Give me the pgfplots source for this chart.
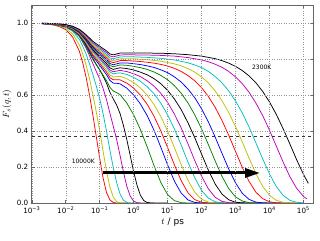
\documentclass[border=0pt]{standalone}
\usepackage{fontspec}
\setmainfont{DejaVu Sans}
\usepackage{pgfplots}
\pgfplotsset{compat=1.18}
\usetikzlibrary{arrows.meta}
\definecolor{mb}{rgb}{0,0,1}
\definecolor{mg}{rgb}{0,0.5,0}
\definecolor{mr}{rgb}{1,0,0}
\definecolor{mc}{rgb}{0,0.75,0.75}
\definecolor{mm}{rgb}{0.75,0,0.75}
\definecolor{my}{rgb}{0.75,0.75,0}
\begin{document}
\begin{tikzpicture}
\useasboundingbox (-31.8pt,-37pt) rectangle (288.2pt,203pt);
\begin{axis}[
  at={(0,0)}, anchor=south west,
  scale only axis, width=281.8pt, height=198pt,
  xmode=log, xmin=1e-3, xmax=2e5, ymin=0, ymax=1.1,
  xminorticks=false,
  xtick={1e-3,1e-2,1e-1,1,10,100,1000,10000,100000},
  xticklabels={10\textsuperscript{−3},10\textsuperscript{−2},10\textsuperscript{−1},10\textsuperscript{0},10\textsuperscript{1},10\textsuperscript{2},10\textsuperscript{3},10\textsuperscript{4},10\textsuperscript{5}},
  ytick={0,0.2,0.4,0.6,0.8,1.0},
  yticklabels={0.0,0.2,0.4,0.6,0.8,1.0},
  grid=major, major grid style={dotted, black!42, line width=0.4pt},
  axis line style={black!60, line width=0.6pt},
  tick style={black!60, line width=0.5pt}, major tick length=3pt,
  tick label style={font=\fontsize{7.2}{8}\selectfont},
  label style={font=\fontsize{9}{10}\selectfont},
  xlabel={$t$ / ps}, ylabel={$F_s(q,t)$},
  xlabel style={at={(axis description cs:0.5,-0.098)}, anchor=center},
  ylabel style={at={(axis description cs:-0.088,0.5)}, anchor=center},
  axis on top,
  every axis plot/.append style={line width=0.75pt, line join=round},
]
\addplot[mr] coordinates {(0.001995,0.996) (0.003981,0.990) (0.00631,0.981) (0.01,0.963) (0.01585,0.923) (0.02512,0.844) (0.03162,0.779) (0.03981,0.698) (0.05012,0.600) (0.0631,0.487) (0.07943,0.368) (0.1,0.248) (0.1259,0.139) (0.1585,0.059) (0.1995,0.017) (0.2512,0.003) (0.3162,0) (0.631,0)};
\addplot[my] coordinates {(0.001995,0.997) (0.003981,0.992) (0.00631,0.985) (0.01,0.970) (0.01585,0.940) (0.02512,0.879) (0.03162,0.828) (0.03981,0.766) (0.05012,0.690) (0.0631,0.602) (0.07943,0.506) (0.1,0.402) (0.1259,0.287) (0.1585,0.178) (0.1995,0.088) (0.2512,0.033) (0.3162,0.008) (0.3981,0.001) (0.5012,0) (1,0)};
\addplot[mc] coordinates {(0.001995,0.997) (0.003981,0.993) (0.00631,0.988) (0.01,0.977) (0.01585,0.955) (0.02512,0.910) (0.03162,0.871) (0.03981,0.827) (0.05012,0.773) (0.0631,0.713) (0.07943,0.650) (0.1,0.580) (0.1259,0.496) (0.1585,0.400) (0.1995,0.294) (0.2512,0.197) (0.3162,0.113) (0.3981,0.050) (0.5012,0.015) (0.631,0.003) (0.7943,0) (1.585,0)};
\addplot[mm] coordinates {(0.001995,0.997) (0.003981,0.994) (0.00631,0.990) (0.01,0.981) (0.01585,0.962) (0.02512,0.927) (0.03162,0.895) (0.03981,0.860) (0.05012,0.818) (0.0631,0.774) (0.07943,0.731) (0.1,0.689) (0.1259,0.636) (0.1585,0.575) (0.1995,0.499) (0.2512,0.427) (0.3162,0.352) (0.3981,0.264) (0.5012,0.172) (0.631,0.092) (0.7943,0.038) (1,0.010) (1.259,0.002) (1.585,0) (3.981,0)};
\addplot[black] coordinates {(0.001995,0.998) (0.003981,0.995) (0.00631,0.991) (0.01,0.983) (0.01585,0.966) (0.02512,0.934) (0.03981,0.875) (0.05012,0.839) (0.0631,0.802) (0.07943,0.769) (0.1,0.740) (0.1259,0.705) (0.1585,0.666) (0.1995,0.616) (0.2512,0.578) (0.3162,0.544) (0.3981,0.497) (0.5012,0.430) (0.631,0.351) (0.7943,0.263) (1,0.174) (1.259,0.098) (1.585,0.043) (1.995,0.013) (2.512,0.003) (3.162,0) (10,0)};
\addplot[mg] coordinates {(0.001995,0.996) (0.003981,0.992) (0.00631,0.986) (0.01,0.977) (0.01585,0.959) (0.02512,0.926) (0.03981,0.867) (0.0631,0.797) (0.1,0.740) (0.1585,0.680) (0.1995,0.643) (0.2512,0.622) (0.3162,0.613) (0.3981,0.602) (0.631,0.555) (1,0.490) (1.585,0.408) (2.512,0.311) (3.981,0.208) (6.31,0.114) (10,0.047) (15.85,0.013) (25.12,0.002) (39.81,0) (158.5,0)};
\addplot[mb] coordinates {(0.001995,0.996) (0.003981,0.993) (0.00631,0.989) (0.01,0.980) (0.01585,0.964) (0.02512,0.934) (0.03981,0.880) (0.0631,0.815) (0.1,0.765) (0.1585,0.713) (0.1995,0.681) (0.2512,0.666) (0.3162,0.665) (0.3981,0.662) (0.631,0.638) (1,0.600) (1.585,0.550) (2.512,0.485) (3.981,0.404) (6.31,0.310) (10,0.212) (15.85,0.122) (25.12,0.055) (39.81,0.017) (63.1,0.003) (100,0) (398.1,0)};
\addplot[mr] coordinates {(0.001995,0.997) (0.003981,0.994) (0.00631,0.989) (0.01,0.982) (0.01585,0.966) (0.02512,0.937) (0.03981,0.886) (0.0631,0.823) (0.1,0.776) (0.1585,0.727) (0.1995,0.697) (0.2512,0.684) (0.3162,0.685) (0.3981,0.684) (0.631,0.666) (1,0.638) (1.585,0.599) (2.512,0.548) (3.981,0.482) (6.31,0.401) (10,0.308) (15.85,0.212) (25.12,0.124) (39.81,0.057) (63.1,0.019) (100,0.004) (158.5,0) (631,0)};
\addplot[my] coordinates {(0.001995,0.997) (0.003981,0.994) (0.00631,0.990) (0.01,0.983) (0.01585,0.968) (0.02512,0.940) (0.03981,0.891) (0.0631,0.831) (0.1,0.786) (0.1585,0.740) (0.1995,0.712) (0.2512,0.700) (0.3162,0.702) (0.3981,0.704) (0.631,0.690) (1,0.669) (1.585,0.639) (2.512,0.599) (3.981,0.547) (6.31,0.481) (10,0.400) (15.85,0.308) (25.12,0.213) (39.81,0.126) (63.1,0.060) (100,0.021) (158.5,0.005) (251.2,0) (1000,0)};
\addplot[mc] coordinates {(0.001995,0.997) (0.003981,0.995) (0.00631,0.991) (0.01,0.984) (0.01585,0.970) (0.02512,0.944) (0.03981,0.897) (0.0631,0.840) (0.1,0.797) (0.1585,0.754) (0.1995,0.728) (0.2512,0.717) (0.3162,0.721) (0.3981,0.723) (0.631,0.714) (1,0.698) (1.585,0.676) (2.512,0.646) (3.981,0.607) (6.31,0.555) (10,0.490) (15.85,0.412) (25.12,0.322) (39.81,0.227) (63.1,0.140) (100,0.070) (158.5,0.027) (251.2,0.007) (398.1,0.001) (631,0) (1585,0)};
\addplot[mm] coordinates {(0.001995,0.997) (0.003981,0.995) (0.00631,0.991) (0.01,0.985) (0.01585,0.972) (0.02512,0.946) (0.03981,0.901) (0.0631,0.846) (0.1,0.805) (0.1585,0.764) (0.1995,0.739) (0.2512,0.729) (0.3162,0.733) (0.3981,0.737) (0.631,0.730) (1,0.718) (1.585,0.702) (2.512,0.679) (3.981,0.649) (6.31,0.610) (10,0.559) (15.85,0.494) (25.12,0.417) (39.81,0.329) (63.1,0.236) (100,0.149) (158.5,0.079) (251.2,0.032) (398.1,0.009) (631,0.002) (1000,0) (2512,0)};
\addplot[black] coordinates {(0.001995,0.998) (0.003981,0.995) (0.00631,0.992) (0.01,0.986) (0.01585,0.973) (0.02512,0.949) (0.03981,0.905) (0.0631,0.852) (0.1,0.814) (0.1585,0.775) (0.1995,0.751) (0.2512,0.742) (0.3162,0.747) (0.3981,0.751) (0.631,0.747) (1,0.739) (1.585,0.727) (2.512,0.712) (3.981,0.691) (6.31,0.663) (10,0.626) (15.85,0.578) (25.12,0.519) (39.81,0.446) (63.1,0.363) (100,0.272) (158.5,0.183) (251.2,0.106) (398.1,0.050) (631,0.018) (1000,0.004) (1585,0.001) (2512,0) (6310,0)};
\addplot[mg] coordinates {(0.001995,0.998) (0.003981,0.996) (0.00631,0.993) (0.01,0.987) (0.01585,0.975) (0.02512,0.952) (0.03981,0.910) (0.0631,0.860) (0.1,0.824) (0.1585,0.787) (0.1995,0.764) (0.2512,0.757) (0.3162,0.762) (0.3981,0.767) (0.631,0.765) (1,0.759) (1.585,0.752) (2.512,0.742) (3.981,0.728) (6.31,0.709) (10,0.685) (15.85,0.652) (25.12,0.610) (39.81,0.556) (63.1,0.490) (100,0.412) (158.5,0.325) (251.2,0.234) (398.1,0.149) (631,0.080) (1000,0.034) (1585,0.011) (2512,0.002) (6310,0) (15850,0)};
\addplot[mb] coordinates {(0.001995,0.998) (0.003981,0.996) (0.00631,0.993) (0.01,0.988) (0.01585,0.976) (0.02512,0.954) (0.03981,0.914) (0.0631,0.866) (0.1,0.831) (0.1585,0.797) (0.1995,0.775) (0.2512,0.768) (0.3162,0.773) (0.3981,0.778) (0.631,0.778) (1,0.774) (1.585,0.769) (2.512,0.762) (3.981,0.753) (6.31,0.740) (10,0.724) (15.85,0.701) (25.12,0.672) (39.81,0.633) (63.1,0.585) (100,0.524) (158.5,0.451) (251.2,0.367) (398.1,0.277) (631,0.189) (1000,0.112) (1585,0.054) (2512,0.020) (3981,0.005) (6310,0.001) (15850,0) (39810,0)};
\addplot[mr] coordinates {(0.001995,0.998) (0.003981,0.996) (0.00631,0.994) (0.01,0.988) (0.01585,0.978) (0.02512,0.957) (0.03981,0.918) (0.0631,0.873) (0.1,0.840) (0.1585,0.807) (0.1995,0.786) (0.2512,0.780) (0.3162,0.785) (0.3981,0.791) (0.631,0.791) (1,0.789) (1.585,0.786) (2.512,0.782) (3.981,0.777) (6.31,0.770) (10,0.761) (15.85,0.748) (25.12,0.731) (39.81,0.708) (63.1,0.679) (100,0.641) (158.5,0.592) (251.2,0.532) (398.1,0.459) (631,0.377) (1000,0.287) (1585,0.198) (2512,0.120) (3981,0.060) (6310,0.024) (10000,0.007) (15850,0.001) (39810,0) (63100,0)};
\addplot[my] coordinates {(0.001995,0.998) (0.003981,0.997) (0.00631,0.994) (0.01,0.989) (0.01585,0.979) (0.02512,0.959) (0.03981,0.922) (0.0631,0.879) (0.1,0.847) (0.1585,0.816) (0.1995,0.796) (0.2512,0.790) (0.3162,0.796) (0.3981,0.801) (0.631,0.802) (1,0.801) (2.512,0.796) (6.31,0.788) (15.85,0.773) (25.12,0.762) (39.81,0.747) (63.1,0.727) (100,0.701) (158.5,0.667) (251.2,0.623) (398.1,0.569) (631,0.503) (1000,0.425) (1585,0.339) (2512,0.249) (3981,0.164) (6310,0.093) (10000,0.043) (15850,0.015) (25120,0.004) (39810,0.001) (100000,0)};
\addplot[mc] coordinates {(0.001995,0.998) (0.003981,0.997) (0.00631,0.994) (0.01,0.990) (0.01585,0.980) (0.02512,0.961) (0.03981,0.926) (0.0631,0.885) (0.1,0.855) (0.1585,0.825) (0.1995,0.806) (0.2512,0.801) (0.3162,0.806) (0.3981,0.811) (0.631,0.813) (1,0.812) (2.512,0.809) (6.31,0.804) (15.85,0.795) (39.81,0.779) (63.1,0.767) (100,0.752) (158.5,0.731) (251.2,0.703) (398.1,0.668) (631,0.623) (1000,0.567) (1585,0.500) (2512,0.422) (3981,0.335) (6310,0.246) (10000,0.162) (15850,0.092) (25120,0.043) (39810,0.015) (63100,0.004) (100000,0.001)};
\addplot[mm] coordinates {(0.001995,0.999) (0.003981,0.997) (0.00631,0.995) (0.01,0.990) (0.01585,0.981) (0.02512,0.963) (0.03981,0.930) (0.0631,0.891) (0.1,0.863) (0.1585,0.835) (0.1995,0.817) (0.2512,0.812) (0.3162,0.817) (0.3981,0.822) (0.631,0.824) (1,0.823) (2.512,0.822) (6.31,0.820) (15.85,0.816) (39.81,0.808) (100,0.795) (158.5,0.785) (251.2,0.771) (398.1,0.754) (631,0.731) (1000,0.701) (1585,0.663) (2512,0.615) (3981,0.556) (6310,0.486) (10000,0.405) (15850,0.317) (25120,0.229) (39810,0.147) (63100,0.082) (100000,0.037) (125900,0.023)};
\addplot[black] coordinates {(0.001995,0.999) (0.003981,0.997) (0.00631,0.995) (0.01,0.991) (0.01585,0.982) (0.02512,0.965) (0.03981,0.935) (0.0631,0.898) (0.1,0.871) (0.1585,0.845) (0.1995,0.828) (0.2512,0.823) (0.3162,0.828) (0.3981,0.833) (0.631,0.834) (1,0.834) (2.512,0.833) (6.31,0.832) (15.85,0.829) (39.81,0.824) (100,0.816) (251.2,0.802) (398.1,0.791) (631,0.777) (1000,0.759) (1585,0.736) (2512,0.706) (3981,0.668) (6310,0.620) (10000,0.562) (15850,0.493) (25120,0.414) (39810,0.329) (63100,0.241) (100000,0.160) (140000,0.109)};
\addplot[black!80, line width=0.6pt, dash pattern=on 3.5pt off 2.5pt] coordinates {(0.001,0.3679) (200000,0.3679)};
\draw[line width=3pt, -{Triangle[length=15pt, width=9pt]}] (axis cs:0.1227,0.1667) -- (axis cs:5300,0.1667);
\node[font=\fontsize{6}{7}\selectfont] at (axis cs:0.0329,0.229) {10000K};
\node[font=\fontsize{6}{7}\selectfont] at (axis cs:5943,0.752) {2300K};
\end{axis}
\end{tikzpicture}
\end{document}
